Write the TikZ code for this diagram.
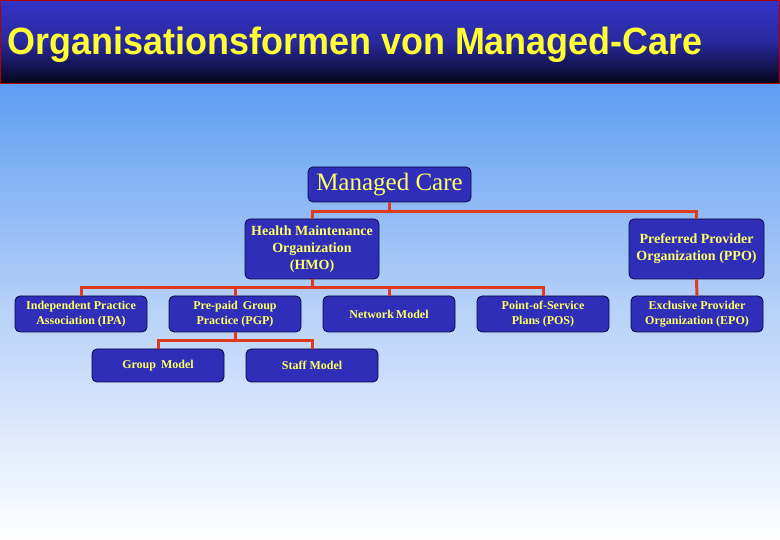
\documentclass[tikz,border=0pt]{standalone}
\usepackage{fontspec}
\setmainfont{Liberation Serif}
\newfontfamily\titlefont{Liberation Sans}
\usetikzlibrary{calc}
\definecolor{bartop}{HTML}{3434C8}
\definecolor{barbot}{HTML}{05051A}
\definecolor{bgtop}{HTML}{5E9EF2}
\definecolor{bgmid}{HTML}{B4CFF8}
\definecolor{bgbot}{HTML}{FFFFFF}
\definecolor{boxfill}{HTML}{2E2EB8}
\definecolor{boxline}{HTML}{0A0A40}
\definecolor{txtyel}{HTML}{FFFF66}
\definecolor{linered}{HTML}{E03A1E}
\definecolor{titleyel}{HTML}{FFFF33}
\newcommand{\titletext}{\titlefont\bfseries\fontsize{38}{40}\selectfont Organisationsformen von Managed-Care}
\begin{document}
\begin{tikzpicture}[x=1pt,y=-1pt,
  box/.style={draw=boxline, line width=0.8pt, fill=boxfill, rounded corners=5pt,
    text=txtyel, font=\bfseries\fontsize{12}{15}\selectfont, align=center,
    inner sep=1pt},
  bigbox/.style={box, font=\bfseries\fontsize{14}{17}\selectfont},
  conn/.style={draw=linered, line width=3pt}]
\useasboundingbox (0,0) rectangle (780,540);
% background
\fill[top color=bgtop, bottom color=bgmid] (0,84) rectangle (780,300);
\fill[top color=bgmid, bottom color=bgbot] (0,299.5) rectangle (780,540);
% title bar
\fill[top color=bartop, bottom color=barbot, middle color=bartop!75!barbot] (0,0) rectangle (780,84);
\draw[draw=red!70!black, line width=1pt] (0.5,0.5) rectangle (779.5,83.5);
\node[anchor=base west, inner sep=0pt, text=titleyel] (title) at (7.5,55)
  {\resizebox{695pt}{\height}{\titletext}};
% nodes
\node[box, minimum width=163pt, minimum height=35pt, font=\fontsize{25}{28}\selectfont] (MC) at (389.5,184.5) {Managed Care};
\node[bigbox, minimum width=134pt, minimum height=60pt] (HMO) at (312,249) {Health Maintenance\\Organization\\(HMO)};
\node[bigbox, minimum width=135pt, minimum height=60pt] (PPO) at (696.5,249) {Preferred Provider\\Organization (PPO)};
\node[box, minimum width=132pt, minimum height=36pt] (IPA) at (81,314) {Independent Practice\\Association (IPA)};
\node[box, minimum width=132pt, minimum height=36pt] (PGP) at (235,314) {Pre-paid\, Group\\Practice (PGP)};
\node[box, minimum width=132pt, minimum height=36pt] (NET) at (389,314) {Network\,Model};
\node[box, minimum width=132pt, minimum height=36pt] (POS) at (543,314) {Point-of-Service\\Plans (POS)};
\node[box, minimum width=132pt, minimum height=36pt] (EPO) at (697,314) {Exclusive Provider\\Organization (EPO)};
\node[box, minimum width=132pt, minimum height=33pt] (GRP) at (158,365.5) {Group\, Model};
\node[box, minimum width=132pt, minimum height=33pt] (STF) at (312,365.5) {Staff Model};
% connectors
\draw[conn] (MC.south) -- ++(0,9) -| (HMO.north);
\draw[conn] (MC.south) -- ++(0,9) -| (PPO.north);
\draw[conn] (HMO.south) -- ++(0,8) -| (IPA.north);
\draw[conn] (HMO.south) -- ++(0,8) -| (PGP.north);
\draw[conn] (HMO.south) -- ++(0,8) -| (NET.north);
\draw[conn] (HMO.south) -- ++(0,8) -| (POS.north);
\draw[conn] (PPO.south) -- (EPO.north);
\draw[conn] (PGP.south) -- ++(0,8) -| (GRP.north);
\draw[conn] (PGP.south) -- ++(0,8) -| (STF.north);
\end{tikzpicture}
\end{document}
